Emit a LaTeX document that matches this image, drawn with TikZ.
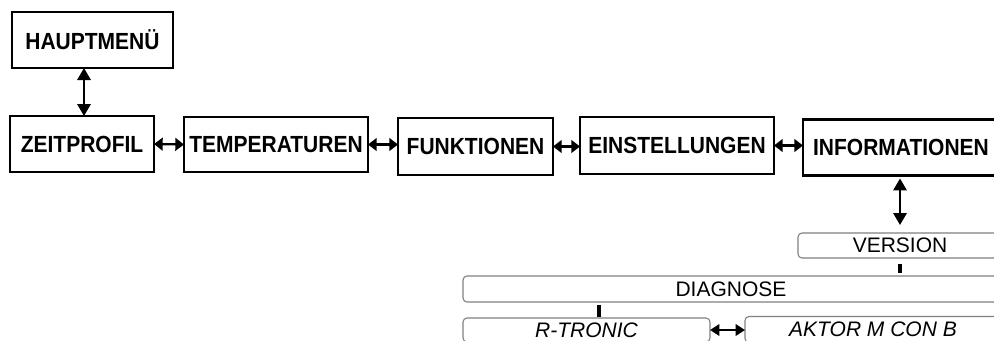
\documentclass[tikz,border=0pt]{standalone}
\usepackage{fontspec}
\setmainfont{Liberation Sans}
\newfontfamily\menufont[FakeStretch=0.9]{Liberation Sans}
\usetikzlibrary{arrows.meta}
\begin{document}
\begin{tikzpicture}[x=0.75pt,y=-0.75pt,
  menubox/.style={draw=black,line width=1.1pt,inner sep=0pt,outer sep=0pt,
    font=\menufont\fontsize{17.5}{20}\selectfont\bfseries},
  selbox/.style={menubox,line width=2.2pt},
  subbox/.style={draw=black!50,line width=0.8pt,rounded corners=3pt,inner sep=0pt,outer sep=0pt,
    font=\fontsize{15.75}{18}\selectfont},
  leafbox/.style={subbox,font=\fontsize{15.75}{18}\selectfont\itshape},
  hdbl/.style={line width=1.7pt,{Triangle[length=6.5pt,width=9.5pt]}-{Triangle[length=6.5pt,width=9.5pt]}},
  vdbl/.style={line width=1.6pt,{Triangle[length=9pt,width=10pt]}-{Triangle[length=9pt,width=10pt]}},
  sdbl/.style={line width=1.7pt,{Triangle[length=7pt,width=8.5pt]}-{Triangle[length=7pt,width=8.5pt]}},
  tick/.style={line width=2.3pt}
]
\useasboundingbox (0,0) rectangle (994,340);
\clip (0,0) rectangle (994,340);
\fill[white] (0,0) rectangle (994,340);

\node[menubox,minimum width={161*0.75pt},minimum height={56*0.75pt}] (hm) at (92.5,40) {HAUPTMENÜ};
\node[menubox,minimum width={144*0.75pt},minimum height={56*0.75pt}] (zp) at (82,144) {ZEITPROFIL};
\node[menubox,minimum width={184*0.75pt},minimum height={55*0.75pt}] (tp) at (276,144.5) {TEMPERATUREN};
\node[menubox,minimum width={155*0.75pt},minimum height={57*0.75pt}] (fk) at (475.5,146.5) {FUNKTIONEN};
\node[menubox,minimum width={194*0.75pt},minimum height={57*0.75pt}] (es) at (677,145.5) {EINSTELLUNGEN};
\node[selbox,minimum width={196*0.75pt},minimum height={56*0.75pt}] (inf) at (901,147.5) {INFORMATIONEN};

\node[subbox,minimum width={204*0.75pt},minimum height={25*0.75pt}] (ver) at (900,245.5) {VERSION};
\node[subbox,minimum width={536*0.75pt},minimum height={26*0.75pt}] (dia) at (731,289) {DIAGNOSE};
\node[leafbox,minimum width={247*0.75pt},minimum height={24*0.75pt}] (rt) at (586.5,330) {R-TRONIC};
\node[leafbox,minimum width={256*0.75pt},minimum height={26*0.75pt}] (ak) at (873,329.5) {AKTOR M CON B};

\coordinate (c1) at (84,0);
\coordinate (c2) at (599,0);
\coordinate (c3) at (900,0);

\draw[vdbl] (hm.south -| c1) -- (zp.north -| c1);
\draw[hdbl] (zp.east) -- (tp.west);
\draw[hdbl] (tp.east) -- (fk.west |- tp.east);
\draw[hdbl] (fk.east) -- (es.west |- fk.east);
\draw[hdbl] (es.east) -- (inf.west |- es.east);
\draw[vdbl,shorten <=2.2pt,shorten >=6pt] (inf.south -| c3) -- (ver.north -| c3);
\draw[tick,shorten <=4.5pt,shorten >=2.2pt] (ver.south -| c3) -- (dia.north -| c3);
\draw[tick,shorten <=2.2pt,shorten >=0.8pt] (dia.south -| c2) -- (rt.north -| c2);
\draw[sdbl] (rt.east) -- (rt.east -| ak.west);
\end{tikzpicture}
\end{document}
